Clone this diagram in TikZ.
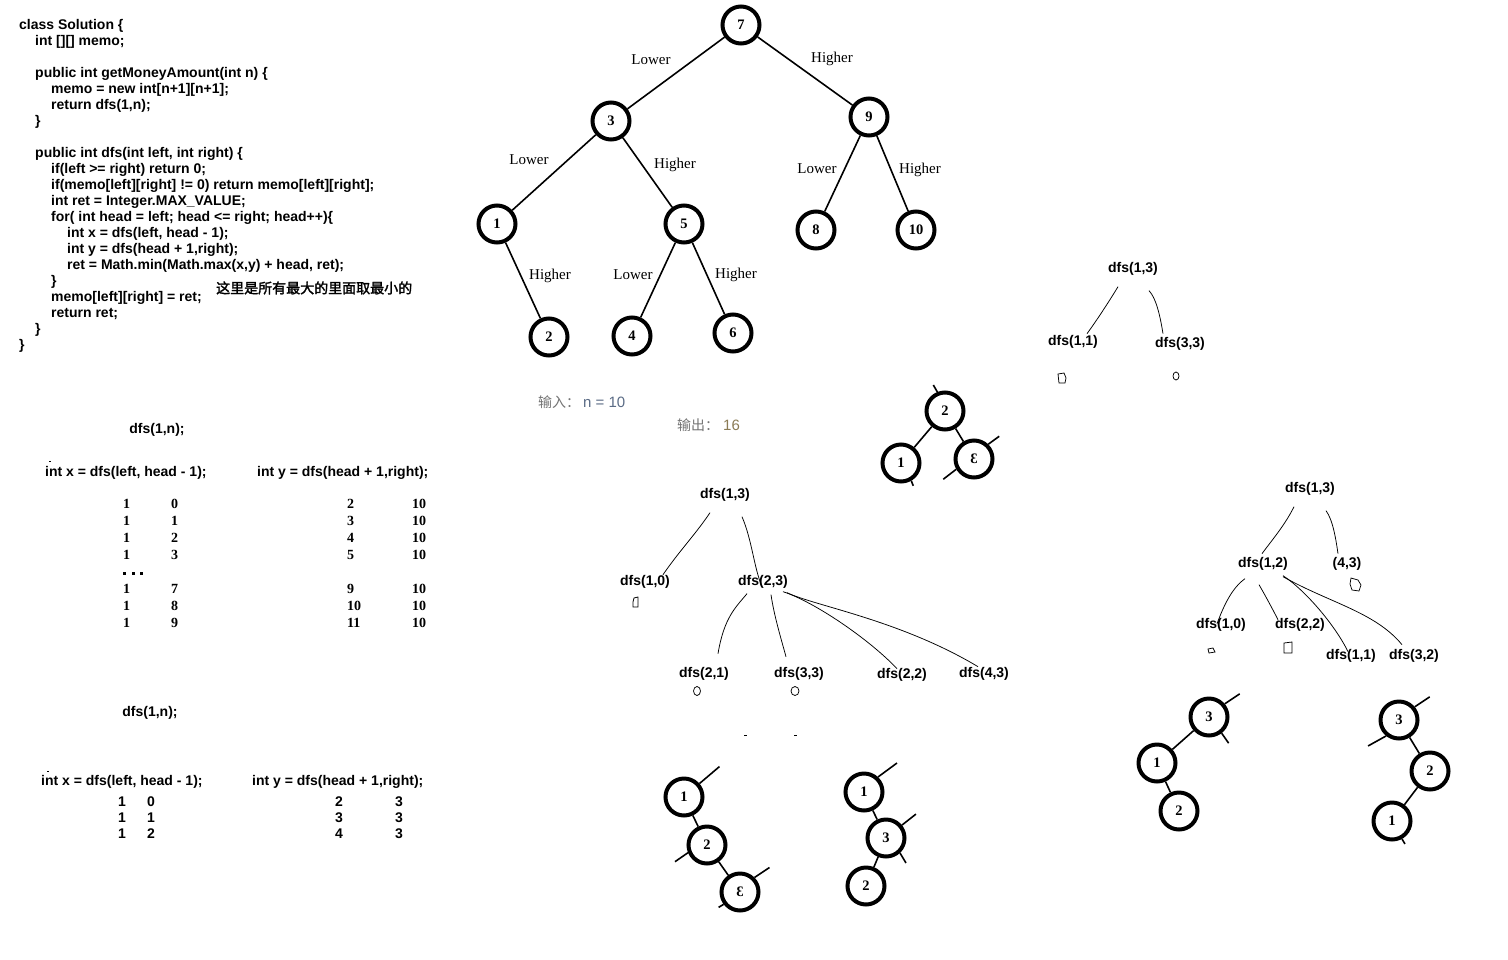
\documentclass[tikz,border=0pt]{standalone}
\usepackage{fontspec}
\usepackage{graphicx}
\setmainfont{Liberation Serif}
\newfontfamily\codefont{Liberation Sans}
\newfontfamily\cjk{Noto Sans CJK SC}
\newfontfamily\cjkbold[FakeBold=2]{Noto Sans CJK SC}
\definecolor{inkgrey}{HTML}{737373}
\definecolor{inkslate}{HTML}{5A6B85}
\definecolor{inkolive}{HTML}{8B7B55}
\tikzset{
  codeline/.style={anchor=mid west, yshift=-3pt, inner sep=0pt, font=\codefont\bfseries\fontsize{14}{16}\selectfont},
  callbox/.style={anchor=mid, yshift=-3pt, inner sep=0pt, font=\codefont\bfseries\fontsize{14}{16}\selectfont},
  treenode/.style={circle, draw, line width=4pt, minimum size=37pt, inner sep=0pt, font=\bfseries\fontsize{14.5}{16}\selectfont},
  treeedge/.style={line width=1.6pt},
  stubline/.style={line width=1.6pt},
  edgelabel/.style={anchor=mid, yshift=-3pt, inner sep=0pt, font=\fontsize{15}{17}\selectfont},
  handline/.style={line width=0.75pt},
  zeromark/.style={line width=0.75pt},
  serifnum/.style={anchor=mid west, yshift=-3pt, inner sep=0pt, font=\bfseries\fontsize{14}{16}\selectfont},
  sansnum/.style={anchor=mid west, yshift=-3pt, inner sep=0pt, font=\codefont\bfseries\fontsize{14}{16}\selectfont},
  ionote/.style={anchor=mid west, yshift=-3pt, inner sep=0pt, font=\cjk\fontsize{14}{16}\selectfont},
}
\begin{document}
\begin{tikzpicture}[x=1pt,y=-1pt]
\useasboundingbox[fill=white] (0,0) rectangle (1508,959);

% ---------------- code ----------------
\node[codeline] (c1) at (19,24) {class Solution \{};
\node[codeline] (c2) at (35,40) {int [][] memo;};
\node[codeline] (c3) at (35,72) {public int getMoneyAmount(int n) \{};
\node[codeline] (c4) at (51,88) {memo = new int[n+1][n+1];};
\node[codeline] (c5) at (51,104) {return dfs(1,n);};
\node[codeline] (c6) at (35,120) {\}};
\node[codeline] (c7) at (35,152) {public int dfs(int left, int right) \{};
\node[codeline] (c8) at (51,168) {if(left >= right) return 0;};
\node[codeline] (c9) at (51,184) {if(memo[left][right] != 0) return memo[left][right];};
\node[codeline] (c10) at (51,200) {int ret = Integer.MAX\_VALUE;};
\node[codeline] (c11) at (51,216) {for( int head = left; head <= right; head++)\{};
\node[codeline] (c12) at (67,232) {int x = dfs(left, head - 1);};
\node[codeline] (c13) at (67,248) {int y = dfs(head + 1,right);};
\node[codeline] (c14) at (67,264) {ret = Math.min(Math.max(x,y) + head, ret);};
\node[codeline] (c15) at (51,280) {\}};
\node[codeline] (c16) at (51,296) {memo[left][right] = ret;};
\node[codeline] (c17) at (51,312) {return ret;};
\node[codeline] (c18) at (35,328) {\}};
\node[codeline] (c19) at (19,344) {\}};
\node[anchor=mid west, yshift=-3pt, inner sep=0pt, font=\cjkbold\fontsize{14}{16}\selectfont] (note) at (216,288) {这里是所有最大的里面取最小的};

% ---------------- main tree ----------------
\node[treenode] (m7) at (741,25) {7};
\node[treenode] (m3) at (611,121) {3};
\node[treenode] (m9) at (869,117) {9};
\node[treenode] (m1) at (497,224) {1};
\node[treenode] (m5) at (684,224) {5};
\node[treenode] (m8) at (816,230) {8};
\node[treenode] (m10) at (916,230) {10};
\node[treenode] (m2) at (549,337) {2};
\node[treenode] (m4) at (632,336) {4};
\node[treenode] (m6) at (733,333) {6};
\draw[treeedge] (m7) -- (m3);
\draw[treeedge] (m7) -- (m9);
\draw[treeedge] (m3) -- (m1);
\draw[treeedge] (m3) -- (m5);
\draw[treeedge] (m1) -- (m2);
\draw[treeedge] (m5) -- (m4);
\draw[treeedge] (m5) -- (m6);
\draw[treeedge] (m9) -- (m8);
\draw[treeedge] (m9) -- (m10);
\node[edgelabel] (l73) at (651,59) {Lower};
\node[edgelabel] (l79) at (832,57) {Higher};
\node[edgelabel] (l31) at (529,159) {Lower};
\node[edgelabel] (l35) at (675,163) {Higher};
\node[edgelabel] (l98) at (817,168) {Lower};
\node[edgelabel] (l910) at (920,168) {Higher};
\node[edgelabel] (l12) at (550,274) {Higher};
\node[edgelabel] (l54) at (633,274) {Lower};
\node[edgelabel] (l56) at (736,273) {Higher};

% ---------------- input / output ----------------
\node[ionote] (inp) at (538,402) {\textcolor{inkgrey}{输入：}\hspace{3pt}\textcolor{inkslate}{\codefont\fontsize{15}{17}\selectfont n = 10}};
\node[ionote] (outp) at (677,425) {\textcolor{inkgrey}{输出：}\hspace{4pt}\textcolor{inkolive}{\codefont\fontsize{15}{17}\selectfont 16}};

% ---------------- table 1 ----------------
\node[callbox] (t1h) at (157,428) {dfs(1,n);};
\node[codeline] (t1x) at (45,471) {int x = dfs(left, head - 1);};
\node[codeline] (t1y) at (257,471) {int y = dfs(head + 1,right);};
\draw[line width=1pt] (49,461) -- (51,461);
\node[serifnum] at (123,503) {1}; \node[serifnum] at (171,503) {0};
\node[serifnum] at (123,520) {1}; \node[serifnum] at (171,520) {1};
\node[serifnum] at (123,537) {1}; \node[serifnum] at (171,537) {2};
\node[serifnum] at (123,554) {1}; \node[serifnum] at (171,554) {3};
\fill (123,572) rectangle (126,575);
\fill (132,572) rectangle (135,575);
\fill (140,572) rectangle (143,575);
\node[serifnum] at (123,588) {1}; \node[serifnum] at (171,588) {7};
\node[serifnum] at (123,605) {1}; \node[serifnum] at (171,605) {8};
\node[serifnum] at (123,622) {1}; \node[serifnum] at (171,622) {9};
\node[serifnum] at (347,503) {2}; \node[serifnum] at (412,503) {10};
\node[serifnum] at (347,520) {3}; \node[serifnum] at (412,520) {10};
\node[serifnum] at (347,537) {4}; \node[serifnum] at (412,537) {10};
\node[serifnum] at (347,554) {5}; \node[serifnum] at (412,554) {10};
\node[serifnum] at (347,588) {9}; \node[serifnum] at (412,588) {10};
\node[serifnum] at (347,605) {10}; \node[serifnum] at (412,605) {10};
\node[serifnum] at (347,622) {11}; \node[serifnum] at (412,622) {10};

% ---------------- table 2 ----------------
\node[callbox] (t2h) at (150,711) {dfs(1,n);};
\node[codeline] (t2x) at (41,780) {int x = dfs(left, head - 1);};
\node[codeline] (t2y) at (252,780) {int y = dfs(head + 1,right);};
\draw[line width=1pt] (47,771) -- (49,771);
\node[sansnum] at (118,801) {1}; \node[sansnum] at (147,801) {0};
\node[sansnum] at (118,817) {1}; \node[sansnum] at (147,817) {1};
\node[sansnum] at (118,833) {1}; \node[sansnum] at (147,833) {2};
\node[sansnum] at (335,801) {2}; \node[sansnum] at (395,801) {3};
\node[sansnum] at (335,817) {3}; \node[sansnum] at (395,817) {3};
\node[sansnum] at (335,833) {4}; \node[sansnum] at (395,833) {3};

% ---------------- call tree D (top right) ----------------
\node[callbox] (d13) at (1133,267) {dfs(1,3)};
\node[callbox] (d11) at (1073,340) {dfs(1,1)};
\node[callbox] (d33) at (1180,342) {dfs(3,3)};
\draw[handline] ([shift={(-15,18)}]d13.center) .. controls (1110,300) and (1097,320) .. ([shift={(14,-8)}]d11.center);
\draw[handline] ([shift={(16,22)}]d13.center) .. controls (1156,298) and (1160,315) .. ([shift={(-17,-10)}]d33.center);
\draw[zeromark] (1058,374) -- (1064,373) -- (1066,378) -- (1065,383) -- (1059,383) -- cycle;
\draw[zeromark] (1176,376) ellipse (3pt and 4pt);

% ---------------- small tree A ----------------
\node[treenode] (a2) at (945,411) {2};
\node[treenode] (a1) at (901,463) {1};
\node[treenode] (a3) at (974,459) {\reflectbox{3}};
\draw[treeedge] (a2) -- (a1);
\draw[treeedge] (a2) -- (a3);
\draw[stubline] (a2.112) -- ++(-4,-7);
\draw[stubline] (a1.-60) -- ++(2,5);
\draw[stubline] (a3.46) -- ++(11,-8);
\draw[stubline] (a3.210) -- ++(-13,10);

% ---------------- call tree E ----------------
\node[callbox] (e13) at (725,493) {dfs(1,3)};
\node[callbox] (e10) at (645,580) {dfs(1,0)};
\node[callbox] (e23) at (763,580) {dfs(2,3)};
\node[callbox] (e21) at (704,672) {dfs(2,1)};
\node[callbox] (e33) at (799,672) {dfs(3,3)};
\node[callbox] (e22) at (902,673) {dfs(2,2)};
\node[callbox] (e43) at (984,672) {dfs(4,3)};
\draw[handline] ([shift={(-15,18)}]e13.center) .. controls (695,535) and (680,550) .. ([shift={(18,-7)}]e10.center);
\draw[handline] ([shift={(17,22)}]e13.center) .. controls (752,540) and (754,568) .. ([shift={(-1,5)}]e23.center);
\draw[handline] ([shift={(-16,12)}]e23.center) .. controls (735,608) and (724,618) .. ([shift={(14,-20)}]e21.center);
\draw[handline] ([shift={(8,13)}]e23.center) .. controls (774,615) and (780,635) .. ([shift={(-13,-17)}]e33.center);
\draw[handline] ([shift={(20,10)}]e23.center) .. controls (815,602) and (870,640) .. ([shift={(-5,-6)}]e22.center);
\draw[handline] ([shift={(24,11)}]e23.center) .. controls (815,606) and (900,620) .. ([shift={(-6,-7)}]e43.center);
\draw[zeromark] (634,598) -- (638,597) -- (638,607) -- (633,607) -- (633,602) -- cycle;
\draw[zeromark] (697,691) ellipse (3.5pt and 4.5pt);
\draw[zeromark] (795,691) ellipse (4pt and 4.5pt);
\draw[line width=1pt] (744,735) -- (747,735);
\draw[line width=1pt] (794,735) -- (797,735);

% ---------------- small tree B ----------------
\node[treenode] (b1) at (684,797) {1};
\node[treenode] (b2) at (707,845) {2};
\node[treenode] (b3) at (740,892) {\reflectbox{3}};
\draw[treeedge] (b1) -- (b2);
\draw[treeedge] (b2) -- (b3);
\draw[stubline] (b1.41) -- ++(20,-17);
\draw[stubline] (b2.202) -- ++(-13,9);
\draw[stubline] (b3.45) -- ++(15,-10);
\draw[stubline] (b3.217) -- ++(-5,3);

\node[treenode] (bb1) at (864,792) {1};
\node[treenode] (bb3) at (886,838) {3};
\node[treenode] (bb2) at (866,886) {2};
\draw[treeedge] (bb1) -- (bb3);
\draw[treeedge] (bb3) -- (bb2);
\draw[stubline] (bb1.47) -- ++(19,-14);
\draw[stubline] (bb3.39) -- ++(14,-11);
\draw[stubline] (bb3.-47) -- ++(6,10);

% ---------------- call tree F ----------------
\node[callbox] (f13) at (1310,487) {dfs(1,3)};
\node[callbox] (f12) at (1263,562) {dfs(1,2)};
\node[callbox] (f43) at (1347,562) {(4,3)};
\node[callbox] (f10) at (1221,623) {dfs(1,0)};
\node[callbox] (f22) at (1300,623) {dfs(2,2)};
\node[callbox] (f11) at (1351,654) {dfs(1,1)};
\node[callbox] (f32) at (1414,654) {dfs(3,2)};
\draw[handline] ([shift={(-16,18)}]f13.center) .. controls (1285,525) and (1272,540) .. ([shift={(-1,-10)}]f12.center);
\draw[handline] ([shift={(16,22)}]f13.center) .. controls (1333,520) and (1336,540) .. ([shift={(-9,-10)}]f43.center);
\draw[handline] ([shift={(-18,15)}]f12.center) .. controls (1232,588) and (1224,605) .. ([shift={(-4,-1)}]f10.center);
\draw[handline] ([shift={(-4,21)}]f12.center) .. controls (1265,595) and (1272,608) .. ([shift={(-22,-5)}]f22.center);
\draw[handline] ([shift={(20,12)}]f12.center) .. controls (1305,590) and (1335,625) .. ([shift={(-3,-4)}]f11.center);
\draw[handline] ([shift={(20,13)}]f12.center) .. controls (1330,603) and (1375,612) .. ([shift={(-12,-11)}]f32.center);
\draw[zeromark] (1208,649) -- (1213,648) -- (1215,652) -- (1209,653) -- cycle;
\draw[zeromark] (1284,643) -- (1292,642) -- (1292,653) -- (1284,653) -- cycle;
\draw[zeromark] (1351,578) -- (1358,580) -- (1361,585) -- (1359,591) -- (1352,590) -- (1350,584) -- cycle;

% ---------------- small tree C ----------------
\node[treenode] (g3) at (1209,717) {3};
\node[treenode] (g1) at (1157,763) {1};
\node[treenode] (g2) at (1179,811) {2};
\draw[treeedge] (g3) -- (g1);
\draw[treeedge] (g1) -- (g2);
\draw[stubline] (g3.40) -- ++(15,-10);
\draw[stubline] (g3.-52) -- ++(7,10);

\node[treenode] (h3) at (1399,720) {3};
\node[treenode] (h2) at (1430,771) {2};
\node[treenode] (h1) at (1392,821) {1};
\draw[treeedge] (h3) -- (h2);
\draw[treeedge] (h2) -- (h1);
\draw[stubline] (h3.40) -- ++(15,-10);
\draw[stubline] (h3.231) -- ++(-18,10);
\draw[stubline] (h1.-61) -- ++(3,5);
\end{tikzpicture}
\end{document}
